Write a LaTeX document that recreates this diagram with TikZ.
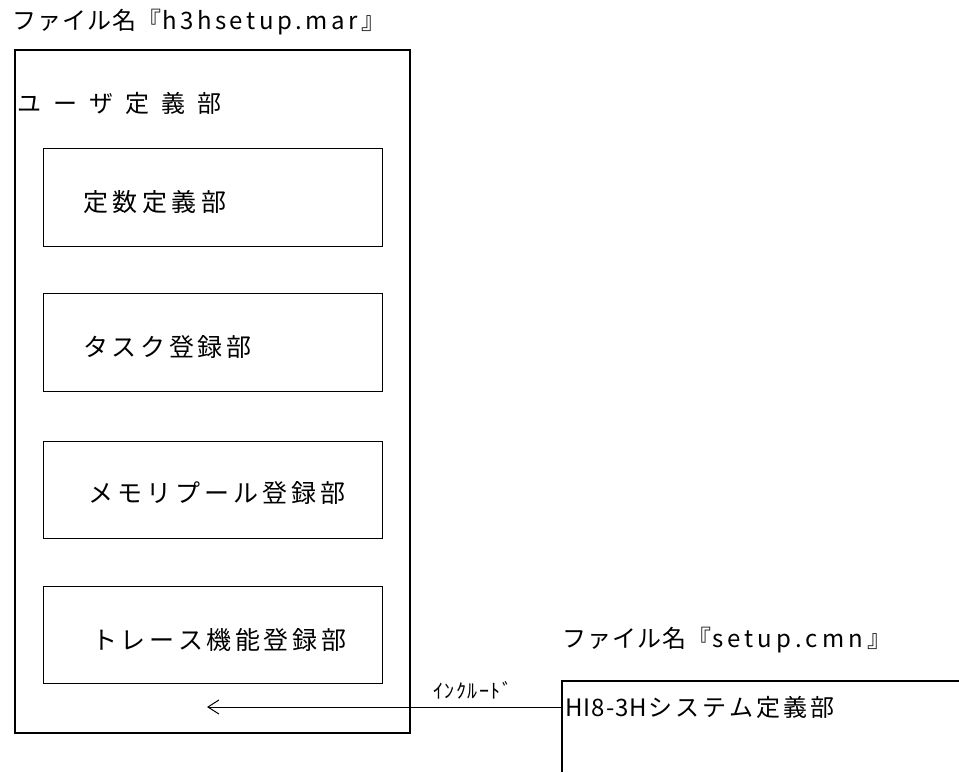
\documentclass[tikz,border=0pt]{standalone}
\usepackage{fontspec}
\setmainfont{Noto Sans CJK JP}
\usetikzlibrary{arrows.meta}
\def\spc#1{\def\spcgap{#1}\spcloop}
\def\spcloop#1{\ifx#1\relax\else#1\hspace{\spcgap}\expandafter\spcloop\fi}
\begin{document}
\begin{tikzpicture}[x=1pt,y=-1pt,
  frame/.style={draw=black,line width=1.3pt},
  part/.style={draw=black,line width=1pt},
  lbl/.style={anchor=west,inner sep=0pt,font=\fontsize{24}{28}\selectfont},
  plbl/.style={anchor=west,inner sep=0pt,font=\fontsize{25}{29}\selectfont},
  small/.style={anchor=west,inner sep=0pt,font=\fontsize{20}{24}\selectfont}]
\useasboundingbox (0,0) rectangle (959,772);
\fill[white] (0,0) rectangle (959,772);
% titles
\node[lbl] (t1) at (12,22) {\spc{1pt}ファイル名『\relax\spc{3.5pt}h3hsetup.mar\relax』};
\node[lbl] (t2) at (562,640) {\spc{1pt}ファイル名『\relax\spc{4pt}setup.cmn\relax』};
% outer box
\coordinate (oa) at (15,50);
\coordinate (ob) at (410,733);
\draw[frame] (oa) rectangle (ob);
\node[lbl] (user) at (17,103) {\spc{12pt}ユーザ定義部\relax};
% inner boxes
\draw[part] (43,148) coordinate (b1a) rectangle (382,246) coordinate (b1b);
\draw[part] (43,293) coordinate (b2a) rectangle (382,391) coordinate (b2b);
\draw[part] (43,441) coordinate (b3a) rectangle (382,538) coordinate (b3b);
\draw[part] (43,586) coordinate (b4a) rectangle (382,683) coordinate (b4b);
\node[plbl] (p1) at (83,202) {\spc{4.5pt}定数定義部\relax};
\node[plbl] (p2) at (83,347) {\spc{3.6pt}タスク登録部\relax};
\node[plbl] (p3) at (88,493) {\spc{4pt}メモリプール登録部\relax};
\node[plbl] (p4) at (92,640) {\spc{3.6pt}トレース機能登録部\relax};
% right box (open)
\coordinate (rb) at (562,681);
\coordinate (rr) at (959,681);
\coordinate (rd) at (562,772);
\draw[frame] (rr) -- (rb) -- (rd);
\node[lbl] (sys) at (565,707) {\spc{1pt}HI8-3H\relax\spc{3pt}システム定義部\relax};
% include arrow
\coordinate (src) at (562,707);
\coordinate (dst) at (207,707);
\draw[line width=1pt,-{Straight Barb[length=11pt,width=14pt,line width=1pt]}] (src) -- (dst);
\node[small] (inc) at (433,690) {\spc{1.5pt}ｲﾝｸﾙｰﾄﾞ\relax};
\end{tikzpicture}
\end{document}
